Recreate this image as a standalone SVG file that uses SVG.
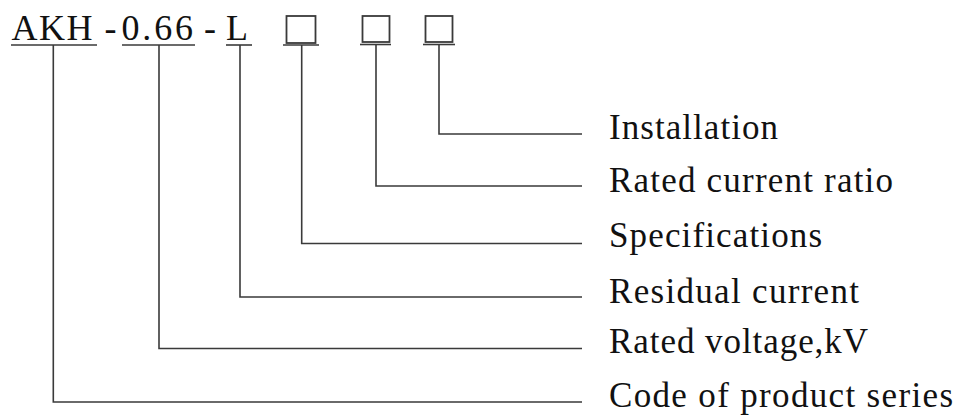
<svg xmlns="http://www.w3.org/2000/svg" width="957" height="419" viewBox="0 0 957 419">
<style>
.t{font-family:"Liberation Serif","Times New Roman",serif;fill:#111;}
.h{font-size:36px;}
.l{font-size:35px;}
.ln{stroke:#3a3a3a;stroke-width:1.6;fill:none;}
.bx{stroke:#3a3a3a;stroke-width:1.8;fill:#fff;}
</style>
<rect width="957" height="419" fill="#fff"/>
<g id="code-AKH">
<text class="t h" x="11.5" y="39.5" textLength="81" lengthAdjust="spacing">AKH</text>
<line class="ln" x1="11" y1="45" x2="97" y2="45"/>
</g>
<g id="dash1"><text class="t h" x="104.5" y="39.5">-</text></g>
<g id="code-066">
<text class="t h" x="121.5" y="39.5" textLength="71.5" lengthAdjust="spacing">0.66</text>
<line class="ln" x1="122" y1="45" x2="195" y2="45"/>
</g>
<g id="dash2"><text class="t h" x="204" y="39.5">-</text></g>
<g id="code-L">
<text class="t h" x="226" y="39.5">L</text>
<line class="ln" x1="226" y1="45" x2="252" y2="45"/>
</g>
<g id="box-spec">
<rect class="bx" x="286.5" y="16" width="29" height="27"/>
<line class="ln" x1="283" y1="45" x2="319" y2="45"/>
</g>
<g id="box-ratio">
<rect class="bx" x="362.5" y="16" width="27" height="26"/>
<line class="ln" x1="360" y1="44.5" x2="391" y2="44.5"/>
</g>
<g id="box-install">
<rect class="bx" x="425.5" y="16" width="27" height="26"/>
<line class="ln" x1="423" y1="44.5" x2="455" y2="44.5"/>
</g>
<g id="connectors">
<polyline class="ln" points="439,44.5 439,134 582,134"/>
<polyline class="ln" points="376,44.5 376,186 582,186"/>
<polyline class="ln" points="301.7,45 301.7,243.5 582,243.5"/>
<polyline class="ln" points="240,45 240,297 582,297"/>
<polyline class="ln" points="159,45 159,348.5 582,348.5"/>
<polyline class="ln" points="53.3,45 53.3,402 582,402"/>
</g>
<g id="label-installation"><text class="t l" x="609" y="138.5" textLength="169" lengthAdjust="spacing">Installation</text></g>
<g id="label-ratio"><text class="t l" x="609" y="192" textLength="284" lengthAdjust="spacing">Rated current ratio</text></g>
<g id="label-spec"><text class="t l" x="609" y="247" textLength="213" lengthAdjust="spacing">Specifications</text></g>
<g id="label-residual"><text class="t l" x="609" y="302.5" textLength="250" lengthAdjust="spacing">Residual current</text></g>
<g id="label-voltage"><text class="t l" x="609" y="352.5" textLength="259" lengthAdjust="spacing">Rated voltage,kV</text></g>
<g id="label-series"><text class="t l" x="609" y="406.5" textLength="344" lengthAdjust="spacing">Code of product series</text></g>
</svg>
